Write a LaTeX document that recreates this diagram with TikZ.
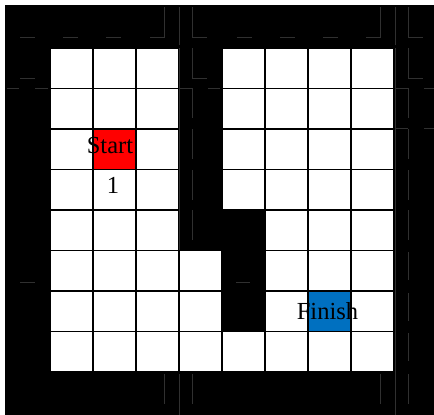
\documentclass[tikz,border=0pt]{standalone}
\usepackage{fontspec}
\setmainfont{Liberation Serif}
\definecolor{startred}{RGB}{255,0,0}
\definecolor{finishblue}{RGB}{0,112,192}
\definecolor{faintgray}{RGB}{48,48,48}
\tikzset{
  wallfill/.style={fill=black},
  gridline/.style={draw=black,line width=1.5pt},
  faint/.style={draw=faintgray,line width=0.7pt},
  label/.style={font=\fontsize{24.5}{28}\selectfont,inner sep=0pt,anchor=base}
}
\begin{document}
\begin{tikzpicture}[x=1pt,y=-1pt]
\useasboundingbox (0,0) rectangle (434,415);
% outer wall
\fill[black] (5,5) rectangle (434,415);
% floor
\fill[white] (50,48) rectangle (394,372);
% start / finish cells
\fill[startred] (93,129) rectangle (136,169.5);
\fill[finishblue] (308,291) rectangle (351,331.5);
% grid
\foreach \i in {0,...,8} {
  \draw[gridline] ({50+43*\i},48) -- ({50+43*\i},372);
  \draw[gridline] (50,{48+40.5*\i}) -- (394,{48+40.5*\i});
}
% inner walls
\fill[wallfill] (179,48) rectangle (222,250.5);
\fill[wallfill] (222,210) rectangle (265,331.5);
% faint texture lines in walls
\foreach \c in {5,48,91,222,265,308} {
  \draw[faint] ({\c+15},37) -- ({\c+30},37);
}
\foreach \d in {0,216} {
  \draw[faint] ({150+\d},37) -- ({164+\d},37) -- ({164+\d},7);
  \draw[faint] ({179+\d},7) -- ({179+\d},45);
  \draw[faint] ({192+\d},7) -- ({192+\d},37) -- ({207+\d},37);
  \draw[faint] ({192+\d},48) -- ({192+\d},78) -- ({207+\d},78);
  \draw[faint] ({180+\d},88) -- ({192+\d},88) -- ({192+\d},118);
  \draw[faint] ({208+\d},88) -- ({220+\d},88);
  \draw[faint] ({192+\d},129) -- ({192+\d},159);
  \draw[faint] ({192+\d},170) -- ({192+\d},200);
  \draw[faint] ({192+\d},210) -- ({192+\d},240);
  \draw[faint] ({164+\d},374) -- ({164+\d},404);
  \draw[faint] ({179+\d},374) -- ({179+\d},415);
  \draw[faint] ({192+\d},374) -- ({192+\d},404);
}
\draw[faint] (179,48) -- (179,250);
\draw[faint] (395,48) -- (395,374);
\draw[faint] (395,128) -- (408,128);
\draw[faint] (424,128) -- (434,128);
\draw[faint] (424,88) -- (434,88);
\foreach \y in {250,291,331} {
  \draw[faint] (408,{\y+2}) -- (408,{\y+30});
}
\draw[faint] (20,78) -- (35,78);
\draw[faint] (7,88) -- (19,88);
\draw[faint] (35,88) -- (48,88);
\draw[faint] (20,282) -- (35,282);
\draw[faint] (236,282) -- (250,282);
% labels
\node[label] (start) at (110,153) {Start};
\node[label] (one) at (113,193) {1};
\node[label] (finish) at (327.5,319) {Finish};
\end{tikzpicture}
\end{document}
